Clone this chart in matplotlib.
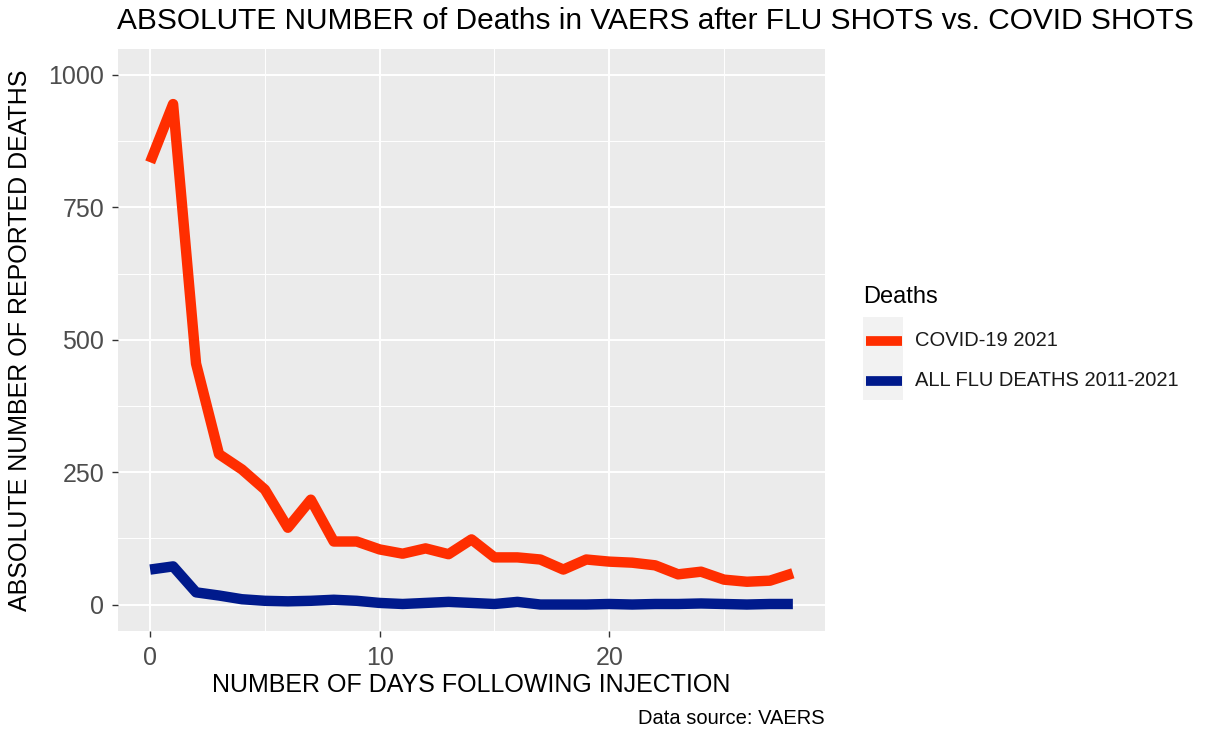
import matplotlib
matplotlib.use("Agg")
import matplotlib.pyplot as plt
from matplotlib.lines import Line2D
from matplotlib.patches import Rectangle

plt.rcParams['font.family'] = ['Liberation Sans', 'DejaVu Sans']

days = list(range(29))
covid = [835, 945, 455, 284, 255, 217, 145, 198, 119, 119, 104, 96, 106, 95, 123,
         89, 89, 85, 66, 85, 81, 79, 74, 57, 62, 47, 43, 45, 59]
flu = [66, 72, 23, 17, 10, 7, 6, 7, 9, 7, 3, 1, 3, 5, 3, 1, 5, 0, 0, 0, 1, 0, 1, 1, 2, 1, 0, 1, 1]

title = "ABSOLUTE NUMBER of Deaths in VAERS after FLU SHOTS vs. COVID SHOTS"
xlabel = "NUMBER OF DAYS FOLLOWING INJECTION"
ylabel = "ABSOLUTE NUMBER OF REPORTED DEATHS"
legend_title = "Deaths"
series_names = ["COVID-19 2021", "ALL FLU DEATHS 2011-2021"]
colors = ["#ff2e00", "#001a8c"]
caption = "Data source: VAERS"
xticks = [0, 10, 20]
yticks = [0, 250, 500, 750, 1000]

W, H = 1225, 730
fig = plt.figure(figsize=(W / 100, H / 100), dpi=100)
L, R, T, B = 118, 825, 49, 631
ax = fig.add_axes([L / W, 1 - B / H, (R - L) / W, (B - T) / H])
ax.set_facecolor("#ebebeb")
for s in ax.spines.values():
    s.set_visible(False)

ax.set_xlim(-1.4, 29.4)
ax.set_ylim(-50, 1049)
ax.set_xticks(xticks)
ax.set_yticks(yticks)
ax.set_xticks([5, 15, 25], minor=True)
ax.set_yticks([125, 375, 625, 875], minor=True)
ax.grid(True, which="major", color="white", linewidth=1.4)
ax.grid(True, which="minor", color="white", linewidth=0.7)
ax.set_axisbelow(True)
ax.tick_params(which="major", length=4, width=1.0, color="#333333", labelsize=18,
               labelcolor="#4d4d4d")
ax.tick_params(axis="x", which="major", pad=7)
ax.tick_params(axis="y", which="major", pad=6)
ax.tick_params(which="minor", length=0)

ax.plot(days, covid, color=colors[0], linewidth=7.5, solid_joinstyle="round",
        solid_capstyle="butt", label=series_names[0])
ax.plot(days, flu, color=colors[1], linewidth=7.5, solid_joinstyle="round",
        solid_capstyle="butt", label=series_names[1])

ax.set_xlabel(xlabel, fontsize=18, color="black", labelpad=2)
ax.set_ylabel(ylabel, fontsize=18, color="black", labelpad=12)

fig.text(117 / W, 1 - 21 / H, title, fontsize=21.5, ha="left", va="center", color="black")
fig.text(825 / W, 1 - 719 / H, caption, fontsize=14.5, ha="right", va="center", color="black")

# legend
fig.text(863 / W, 1 - 297 / H, legend_title, fontsize=17, ha="left", va="center")
fig.patches.append(Rectangle((863 / W, 1 - 400 / H), 40 / W, 83 / H,
                             transform=fig.transFigure, facecolor="#f2f2f2",
                             edgecolor="none", zorder=0))
for i, (name, c) in enumerate(zip(series_names, colors)):
    yc = 1 - (341 + 40 * i) / H
    fig.lines.append(Line2D([866 / W, 902 / W], [yc, yc], transform=fig.transFigure,
                            color=c, linewidth=7.0, solid_capstyle="butt"))
    fig.text(915 / W, yc, name, fontsize=14.5, ha="left", va="center", color="#1a1a1a")

fig.savefig("out.png", dpi=100)
